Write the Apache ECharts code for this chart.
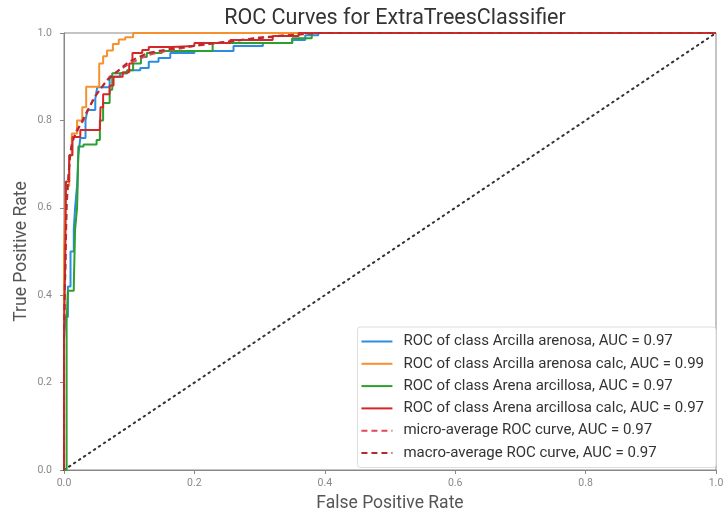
<!DOCTYPE html>
<html>
<head>
<meta charset="utf-8">
<script src="https://cdn.jsdelivr.net/npm/echarts@6/dist/echarts.min.js"></script>
<style>html,body{margin:0;padding:0;background:#fff}#c{width:727px;height:516px}</style>
</head>
<body>
<div id="c"></div>
<script>
const titleText = 'ROC Curves for ExtraTreesClassifier';
const xLabel = 'False Positive Rate';
const yLabel = 'True Positive Rate';
const seriesNames = [
  'ROC of class Arcilla arenosa, AUC = 0.97',
  'ROC of class Arcilla arenosa calc, AUC = 0.99',
  'ROC of class Arena arcillosa, AUC = 0.97',
  'ROC of class Arena arcillosa calc, AUC = 0.97',
  'micro-average ROC curve, AUC = 0.97',
  'macro-average ROC curve, AUC = 0.97'
];
const rocArcillaArenosa = [[0,0],[0,0.3],[0.002,0.35],[0.006,0.42],[0.01,0.5],[0.015,0.55],[0.017,0.6],[0.02,0.65],[0.022,0.72],[0.025,0.76],[0.033,0.8],[0.036,0.824],[0.048,0.85],[0.051,0.876],[0.07,0.9],[0.086,0.908],[0.097,0.915],[0.117,0.92],[0.13,0.934],[0.145,0.943],[0.163,0.954],[0.2,0.959],[0.26,0.97],[0.305,0.977],[0.35,0.984],[0.37,0.995],[0.39,1.0],[1,1]];
const rocArcillaArenosaCalc = [[0,0],[0,0.3],[0,0.5],[0.003,0.65],[0.008,0.72],[0.012,0.77],[0.02,0.8],[0.028,0.83],[0.034,0.877],[0.054,0.93],[0.06,0.947],[0.066,0.96],[0.075,0.975],[0.084,0.985],[0.094,0.99],[0.106,1.0],[1,1]];
const rocArenaArcillosa = [[0,0],[0.004,0.34],[0.006,0.41],[0.015,0.42],[0.017,0.55],[0.02,0.6],[0.021,0.65],[0.022,0.74],[0.03,0.745],[0.05,0.755],[0.055,0.8],[0.06,0.84],[0.07,0.87],[0.074,0.908],[0.097,0.915],[0.106,0.93],[0.118,0.945],[0.127,0.954],[0.15,0.959],[0.228,0.977],[0.35,0.988],[0.38,1.0],[1,1]];
const rocArenaArcillosaCalc = [[0,0],[0,0.3],[0.002,0.5],[0.003,0.66],[0.008,0.72],[0.013,0.762],[0.025,0.778],[0.055,0.778],[0.056,0.83],[0.06,0.86],[0.07,0.88],[0.076,0.9],[0.09,0.91],[0.1,0.93],[0.105,0.954],[0.12,0.961],[0.13,0.968],[0.165,0.97],[0.2,0.977],[0.255,0.984],[0.32,0.993],[0.36,1.0],[1,1]];
const microAverage = [[0,0],[0,0.3],[0.004,0.6],[0.008,0.7],[0.012,0.75],[0.02,0.78],[0.03,0.8],[0.045,0.85],[0.06,0.88],[0.07,0.9],[0.09,0.92],[0.1,0.93],[0.13,0.95],[0.16,0.96],[0.2,0.97],[0.25,0.98],[0.3,0.99],[0.38,1.0],[1,1]];
const macroAverage = [[0,0],[0,0.32],[0.004,0.62],[0.01,0.73],[0.015,0.76],[0.025,0.79],[0.035,0.82],[0.05,0.86],[0.065,0.89],[0.08,0.91],[0.1,0.935],[0.13,0.955],[0.17,0.965],[0.22,0.975],[0.28,0.985],[0.33,0.993],[0.39,1.0],[1,1]];
const diagonal = [[0,0],[1,1]];

const colors = ['#2b8de0', '#f5922f', '#2ca02c', '#d62728', '#e0475a', '#b22a2a'];
const chart = echarts.init(document.getElementById('c'), null, {renderer: 'canvas'});
const font = 'Roboto, "DejaVu Sans", sans-serif';
function stepSeries(name, data, color) {
  return {name, type: 'line', data, step: 'end', symbol: 'none', lineStyle: {color, width: 2}, itemStyle: {color}, z: 3};
}
function dashSeries(name, data, color) {
  return {name, type: 'line', data, symbol: 'none', lineStyle: {color, width: 2, type: [6, 4]}, itemStyle: {color}, z: 4};
}
const axisCommon = {
  type: 'value', min: 0, max: 1, interval: 0.2,
  axisLine: {show: true, lineStyle: {color: '#888', width: 1}},
  axisTick: {show: true, length: 4, lineStyle: {color: '#888'}},
  splitLine: {show: false},
  axisLabel: {color: '#888', fontSize: 10.5, fontFamily: font, formatter: v => v.toFixed(1)},
  nameLocation: 'middle',
  nameMoveOverlap: false,
  nameTextStyle: {color: '#555', fontSize: 17.5, fontFamily: font}
};
chart.setOption({
  animation: false,
  backgroundColor: '#fff',
  title: {text: titleText, left: 390, top: 3, textAlign: 'center',
    textStyle: {fontFamily: font, fontSize: 21.5, fontWeight: 'normal', color: '#333'}},
  grid: {left: 64, right: 11, top: 33, bottom: 46, outerBoundsMode: 'none', containLabel: false,
    show: true, borderColor: '#888', borderWidth: 1, backgroundColor: 'transparent'},
  xAxis: Object.assign({}, axisCommon, {name: xLabel, nameGap: 25, axisLabel: Object.assign({}, axisCommon.axisLabel, {margin: 8})}),
  yAxis: Object.assign({}, axisCommon, {name: yLabel, nameGap: 33, axisLabel: Object.assign({}, axisCommon.axisLabel, {margin: 12})}),
  legend: {
    orient: 'vertical', right: 11, top: 327,
    backgroundColor: '#fff', borderColor: '#ddd', borderWidth: 1, borderRadius: 3,
    padding: [7, 12, 7, 3], itemWidth: 31, itemHeight: 15, itemGap: 7.3,
    itemStyle: {opacity: 0},
    textStyle: {fontFamily: font, fontSize: 15, color: '#333', padding: [0, 0, 0, 6]},
    data: seriesNames
  },
  series: [
    stepSeries(seriesNames[0], rocArcillaArenosa, colors[0]),
    stepSeries(seriesNames[1], rocArcillaArenosaCalc, colors[1]),
    stepSeries(seriesNames[2], rocArenaArcillosa, colors[2]),
    stepSeries(seriesNames[3], rocArenaArcillosaCalc, colors[3]),
    dashSeries(seriesNames[4], microAverage, colors[4]),
    dashSeries(seriesNames[5], macroAverage, colors[5]),
    {name: 'diagonal', type: 'line', data: diagonal, symbol: 'none', silent: true,
     lineStyle: {color: '#333', width: 2, type: [1.5, 4.5], cap: 'round'}, z: 2}
  ]
});
</script>
</body>
</html>
